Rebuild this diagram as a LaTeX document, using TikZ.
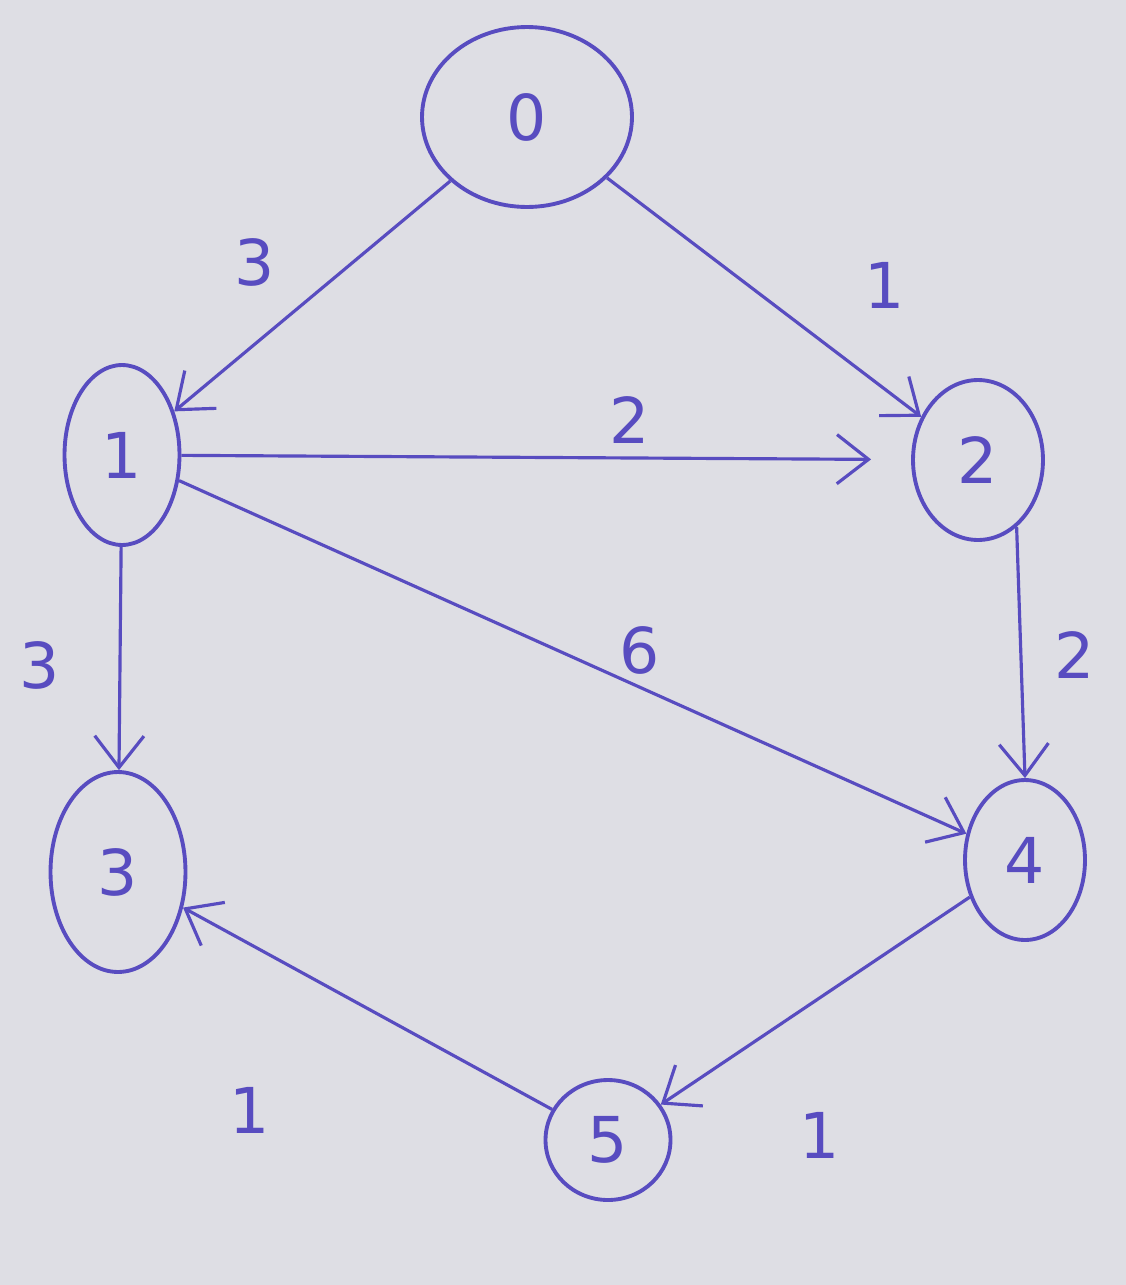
\documentclass[tikz,border=0pt]{standalone}
\usepackage{fontspec}
\setmainfont{DejaVu Sans}
\usetikzlibrary{shapes.geometric,arrows.meta}
\definecolor{ink}{RGB}{88,76,192}
\definecolor{paper}{RGB}{222,222,228}
\begin{document}
\begin{tikzpicture}[x=0.02cm,y=-0.02cm,
    vert/.style={ellipse, draw=ink, line width=2.2pt, text=ink, inner sep=0pt,
        font=\fontsize{36}{42}\selectfont},
    edge/.style={draw=ink, line width=1.8pt, -{Straight Barb[length=18pt,width=28pt,line width=1.8pt]}},
    wt/.style={text=ink, font=\fontsize{36}{42}\selectfont}]
    \fill[paper] (0,0) rectangle (1126,1285);
    \useasboundingbox (0,0) rectangle (1126,1285);
    % vertices
    \node[vert, minimum width=4.2cm, minimum height=3.6cm] (v0) at (527,117) {0};
    \node[vert, minimum width=2.3cm, minimum height=3.6cm] (v1) at (122,455) {1};
    \node[vert, minimum width=2.6cm, minimum height=3.2cm] (v2) at (978,460) {2};
    \node[vert, minimum width=2.7cm, minimum height=4.0cm] (v3) at (118,872) {3};
    \node[vert, minimum width=2.4cm, minimum height=3.2cm] (v4) at (1025,860) {4};
    \node[vert, minimum width=2.5cm, minimum height=2.4cm] (v5) at (608,1140) {5};
    % edges
    \draw[edge] (v0) -- (v1);
    \draw[edge] (v0) -- (v2);
    \draw[edge, shorten >=0.8cm] (v1) -- (v2);
    \draw[edge] (v1) -- (v3);
    \draw[edge] (v1) -- (v4);
    \draw[edge] (v2.-60) -- (v4.north);
    \draw[edge] (v4) -- (v5);
    \draw[edge] (v5) -- (v3);
    % weights
    \node[wt] (w01) at (255,262) {3};
    \node[wt] (w02) at (885,285) {1};
    \node[wt] (w12) at (630,420) {2};
    \node[wt] (w13) at (40,665) {3};
    \node[wt] (w14) at (640,650) {6};
    \node[wt] (w24) at (1075,655) {2};
    \node[wt] (w45) at (820,1135) {1};
    \node[wt] (w53) at (250,1110) {1};
\end{tikzpicture}
\end{document}
